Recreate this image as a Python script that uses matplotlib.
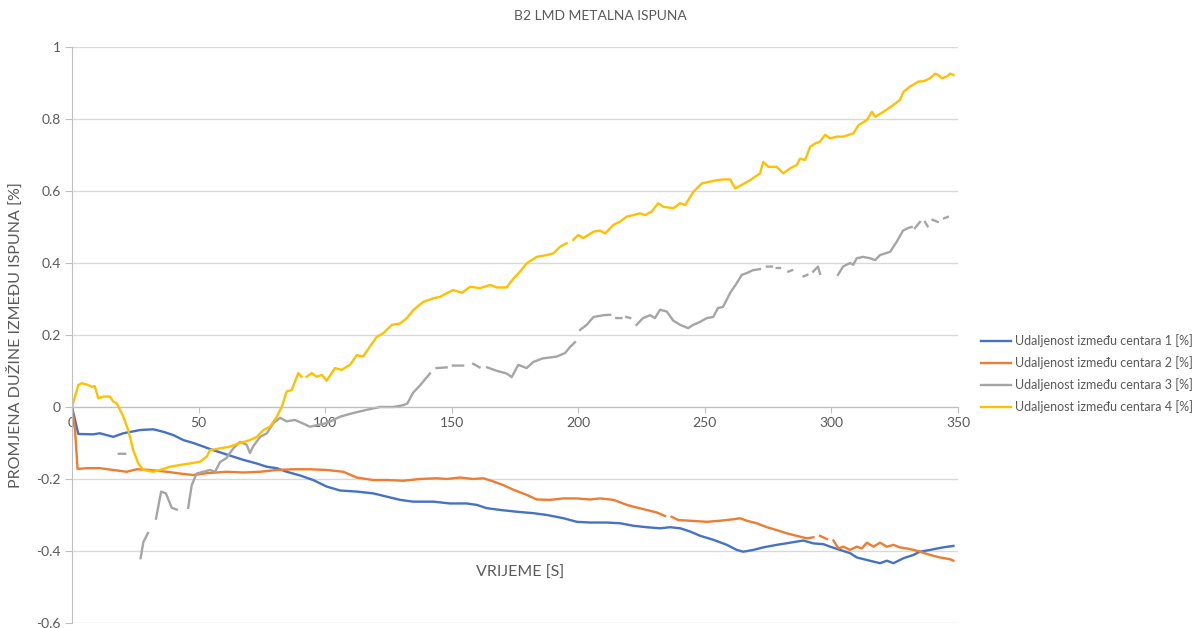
import numpy as np
import matplotlib.pyplot as plt

nan = np.nan

# Udaljenost između centara 1
s1_x = [0, 1.2, 2.5, 8.4, 11, 16.3, 20.3, 26.9, 32.1, 36.1, 40, 44, 47.9, 51.9, 55.8, 59.8,
        63.7, 67.7, 73, 76.9, 80.9, 84.8, 90, 95.3, 100.6, 105.9, 112.5, 119, 124.3, 129.6,
        134.8, 142.8, 149.3, 155.9, 159.9, 163.8, 169.1, 175.7, 182.2, 187.6, 194.1, 199.4,
        204.7, 211.3, 216.5, 221.8, 227, 232.3, 236.3, 240.3, 244.2, 248.2, 253.4, 258.7,
        262.6, 265.2, 269.2, 273.1, 278.4, 283.7, 288.9, 292.9, 296.8, 299.5, 303.4, 307.4,
        310, 314, 319.2, 321.9, 324.5, 328.5, 332.4, 335, 339, 344.1, 348.2]
s1_y = [0, -0.036, -0.075, -0.076, -0.073, -0.083, -0.073, -0.064, -0.062, -0.069, -0.078,
        -0.092, -0.1, -0.11, -0.12, -0.129, -0.138, -0.147, -0.157, -0.166, -0.17, -0.18,
        -0.19, -0.203, -0.221, -0.232, -0.235, -0.24, -0.249, -0.258, -0.263, -0.263, -0.268,
        -0.268, -0.272, -0.281, -0.286, -0.291, -0.295, -0.3, -0.309, -0.319, -0.321, -0.321,
        -0.323, -0.33, -0.334, -0.337, -0.334, -0.337, -0.346, -0.358, -0.369, -0.383, -0.397,
        -0.402, -0.397, -0.39, -0.383, -0.377, -0.371, -0.379, -0.381, -0.388, -0.397, -0.406,
        -0.418, -0.425, -0.434, -0.427, -0.434, -0.42, -0.411, -0.402, -0.397, -0.39, -0.386]

# Udaljenost između centara 2
s2_x = [0, 1.2, 2.2, 6, 11, 16.3, 21.6, 25.6, 30.8, 37.4, 44, 47.9, 53.2, 61, 67.7, 74.3,
        80.9, 87.4, 94, 100.6, 107.2, 112.5, 119, 124.3, 130.9, 137.5, 144.1, 148, 153.3,
        158.5, 162.5, 166.5, 170.4, 174.4, 179.6, 183.6, 188.9, 194.1, 199.4, 204.7, 208.6,
        213.9, 219.2, 221.8, 227, 231, 234.3, 235.5, 236.9, 239.5, 244.2, 250.8, 256, 261.3,
        263.9, 266.6, 270.5, 274.5, 278.4, 282.4, 286.3, 290.3, 292.9, 294.2, 295.5, 298.2,
        299.5, 300.8, 302.8, 304.7, 307.4, 310, 312, 314, 316.6, 319.2, 321.9, 324.5, 327.1,
        329.8, 332.4, 335, 339, 342.9, 346.9, 348.2]
s2_y = [0, -0.064, -0.172, -0.17, -0.17, -0.175, -0.18, -0.173, -0.175, -0.18, -0.186, -0.189,
        -0.184, -0.18, -0.182, -0.18, -0.175, -0.173, -0.173, -0.175, -0.18, -0.196, -0.203,
        -0.203, -0.205, -0.2, -0.198, -0.2, -0.196, -0.2, -0.198, -0.207, -0.217, -0.23,
        -0.244, -0.257, -0.258, -0.254, -0.254, -0.257, -0.254, -0.258, -0.272, -0.277,
        -0.286, -0.293, -0.303, nan, -0.305, -0.314, -0.316, -0.319, -0.316, -0.312, -0.309,
        -0.316, -0.323, -0.334, -0.342, -0.351, -0.358, -0.365, -0.362, nan, -0.358, -0.367,
        nan, -0.371, -0.393, -0.388, -0.397, -0.388, -0.393, -0.377, -0.388, -0.377, -0.388,
        -0.383, -0.39, -0.393, -0.397, -0.402, -0.411, -0.418, -0.423, -0.427]

# Udaljenost između centara 3 (praznine u mjerenju su nan)
s3_x = [18.5, 21, 22, 27.1, 28.2, 30, 31.5, 33.2, 35.2, 37.1, 39.4, 41.4, 43.5, 45.9, 47.3,
        49.2, 51.8, 54.5, 56.5, 58.5, 61, 63.7, 66.4, 69, 70.3, 71.5, 74.3, 77, 79.5, 82.2,
        84.8, 88, 91, 94, 97, 100.6, 105.9, 111, 116.4, 121.7, 126.9, 130.9, 132.5, 134.8,
        137.5, 141.4, 142.5, 144, 148, 149, 150.5, 154.5, 156, 158.5, 161, 162.5, 164, 168,
        171.7, 173.7, 176.3, 179.6, 182.2, 186, 191.5, 194.8, 196.8, 198.7, 199.7, 200.7,
        203.3, 206, 210, 212.6, 214, 215, 217, 218, 219, 220.5, 222, 223, 225.6, 228.4,
        230.3, 232.3, 235, 237.5, 240.3, 243.4, 245.4, 248, 250.8, 253.3, 255.2, 257.2, 260,
        262.6, 264.6, 266.6, 269, 271.8, 273, 274.5, 276.5, 277.5, 278.4, 279.7, 281, 283,
        284.5, 286, 289, 290.5, 291.5, 292.8, 294.7, 295.5, 299, 302.6, 304.6, 307.4, 308.6,
        310, 312.5, 315.3, 317.3, 319.2, 323.2, 325.8, 328.3, 330.3, 331.7, 332.3, 333, 335,
        336, 337, 338, 339, 340, 342, 343.5, 344.5, 346]
s3_y = [-0.13, -0.13, nan, -0.42, -0.375, -0.35, nan, -0.31, -0.235, -0.24, -0.28, -0.285,
        nan, -0.28, -0.217, -0.185, -0.18, -0.175, -0.18, -0.153, -0.142, -0.115, -0.097,
        -0.105, -0.128, -0.11, -0.083, -0.073, -0.045, -0.03, -0.04, -0.036, -0.045, -0.055,
        -0.05, -0.045, -0.027, -0.017, -0.008, 0, 0, 0.005, 0.01, 0.04, 0.06, 0.093, nan,
        0.108, 0.11, nan, 0.115, 0.115, nan, 0.12, 0.11, nan, 0.11, 0.1, 0.093, 0.083, 0.117,
        0.108, 0.125, 0.135, 0.14, 0.15, 0.167, 0.18, nan, 0.214, 0.228, 0.25, 0.255, 0.256,
        nan, 0.247, 0.247, nan, 0.25, 0.247, nan, 0.228, 0.247, 0.255, 0.247, 0.27, 0.265,
        0.24, 0.228, 0.219, 0.228, 0.236, 0.247, 0.25, 0.275, 0.278, 0.317, 0.344, 0.367,
        0.372, 0.38, 0.383, nan, 0.39, 0.39, nan, 0.386, 0.386, nan, 0.376, 0.38, nan, 0.363,
        0.367, nan, 0.376, 0.39, 0.37, nan, 0.367, 0.39, 0.4, 0.395, 0.413, 0.417, 0.413,
        0.408, 0.422, 0.431, 0.459, 0.49, 0.497, 0.5, nan, 0.497, 0.514, nan, 0.514, 0.502,
        nan, 0.52, 0.514, nan, 0.524, 0.528]

# Udaljenost između centara 4
s4_x = [0, 2.5, 3.8, 6, 7.8, 9, 10.4, 12.4, 15, 16.3, 17.7, 20.3, 22.2, 24.2, 26.2, 28.2,
        32.1, 34.8, 38.7, 42.7, 46.6, 50.6, 53.2, 54.5, 58.5, 62.4, 66.4, 70.3, 73, 75.6,
        78.2, 80.9, 82.9, 84.8, 86.8, 89.4, 90.7, 91.7, 92.7, 94.7, 96.7, 98.7, 100.6, 103.9,
        106.5, 109.8, 112.5, 115, 117.7, 120.4, 123, 126.3, 129.6, 132.2, 134.8, 138.8,
        142.8, 145.4, 148, 150.6, 154, 157.3, 161.2, 165.2, 167.8, 171.7, 174.4, 177, 179.6,
        183.6, 187.6, 190.2, 192.8, 195.4, 196.7, 198, 200, 202, 206, 208.6, 210.6, 213.9,
        216.5, 219.2, 221.8, 224.4, 226.4, 229, 231.6, 233.6, 237.6, 240.2, 242.2, 245.5,
        248.8, 252, 254.7, 257.3, 260, 262, 264.6, 267.9, 271.8, 273.1, 275.1, 278.4, 281,
        283.7, 286.3, 287.6, 289.6, 291.6, 293.6, 295.5, 297.5, 299.5, 302.1, 304.7, 308.7,
        310.7, 314, 316, 317.3, 320.6, 324.5, 327.1, 328.5, 331.1, 334.4, 336.5, 339, 341,
        342.3, 343.6, 345.6, 346.9, 348.2]
s4_y = [0, 0.061, 0.066, 0.062, 0.056, 0.058, 0.024, 0.029, 0.029, 0.015, 0.01, -0.027,
        -0.064, -0.12, -0.157, -0.175, -0.18, -0.175, -0.166, -0.161, -0.157, -0.152, -0.138,
        -0.12, -0.115, -0.11, -0.1, -0.092, -0.083, -0.064, -0.055, -0.027, 0.001, 0.043,
        0.047, 0.094, 0.084, nan, 0.084, 0.094, 0.084, 0.089, 0.073, 0.108, 0.103, 0.117,
        0.144, 0.14, 0.168, 0.195, 0.205, 0.228, 0.232, 0.246, 0.269, 0.292, 0.302, 0.306,
        0.316, 0.325, 0.317, 0.334, 0.33, 0.339, 0.332, 0.332, 0.357, 0.376, 0.399, 0.417,
        0.422, 0.427, 0.445, 0.455, nan, 0.464, 0.478, 0.469, 0.487, 0.49, 0.482, 0.506,
        0.515, 0.529, 0.533, 0.538, 0.533, 0.543, 0.566, 0.556, 0.552, 0.566, 0.561, 0.598,
        0.621, 0.626, 0.63, 0.632, 0.632, 0.607, 0.617, 0.63, 0.649, 0.681, 0.667, 0.667,
        0.649, 0.663, 0.672, 0.69, 0.686, 0.723, 0.732, 0.737, 0.756, 0.746, 0.751, 0.751,
        0.76, 0.783, 0.797, 0.82, 0.806, 0.82, 0.839, 0.853, 0.876, 0.89, 0.904, 0.905, 0.913,
        0.926, 0.922, 0.913, 0.918, 0.926, 0.922]

series = [
    (s1_x, s1_y, 'Udaljenost između centara 1 [%]', '#4472C4'),
    (s2_x, s2_y, 'Udaljenost između centara 2 [%]', '#ED7D31'),
    (s3_x, s3_y, 'Udaljenost između centara 3 [%]', '#A5A5A5'),
    (s4_x, s4_y, 'Udaljenost između centara 4 [%]', '#FFC000'),
]

x_ticks = [0, 50, 100, 150, 200, 250, 300, 350]
y_ticks = [-0.6, -0.4, -0.2, 0, 0.2, 0.4, 0.6, 0.8, 1]

plt.rcParams['font.family'] = ['Lato', 'DejaVu Sans']
txt = '#595959'
axc = '#BFBFBF'

fig = plt.figure(figsize=(12.01, 6.28), dpi=100)
ax = fig.add_axes([0.05995, 0.008, 0.7377, 0.9172])

for x, y, name, col in series:
    ax.plot(x, y, color=col, lw=1.7, label=name, solid_joinstyle='round')

ax.set_xlim(0, 350)
ax.set_ylim(-0.6, 1)
ax.set_xticks(x_ticks)
ax.set_yticks(y_ticks)
ax.set_yticklabels(['-0.6', '-0.4', '-0.2', '0', '0.2', '0.4', '0.6', '0.8', '1'])
ax.grid(axis='y', color='#D9D9D9', lw=1)
ax.set_axisbelow(True)

for s in ['top', 'right']:
    ax.spines[s].set_visible(False)
ax.spines['bottom'].set_position(('data', 0))
ax.spines['bottom'].set_color(axc)
ax.spines['left'].set_color(axc)
ax.tick_params(axis='x', colors=axc, labelcolor=txt, labelsize=10, length=4, pad=3)
ax.tick_params(axis='y', colors=axc, labelcolor=txt, labelsize=10, length=5, pad=3)

ax.set_ylabel('PROMJENA DUŽINE IZMEĐU ISPUNA [%]', color=txt, fontsize=11.5, labelpad=10)
ax.text(177, -0.46, 'VRIJEME [S]', color=txt, fontsize=11.5, ha='center', va='center')
fig.text(0.5, 0.975, 'B2 LMD METALNA ISPUNA', color=txt, fontsize=10, ha='center', va='center')

leg = fig.legend(loc='center left', bbox_to_anchor=(0.812, 0.405), frameon=False,
                 fontsize=9, handlelength=2.4, handletextpad=0.3, labelspacing=0.72,
                 borderpad=0, labelcolor=txt)

fig.savefig('out.png', dpi=100)
